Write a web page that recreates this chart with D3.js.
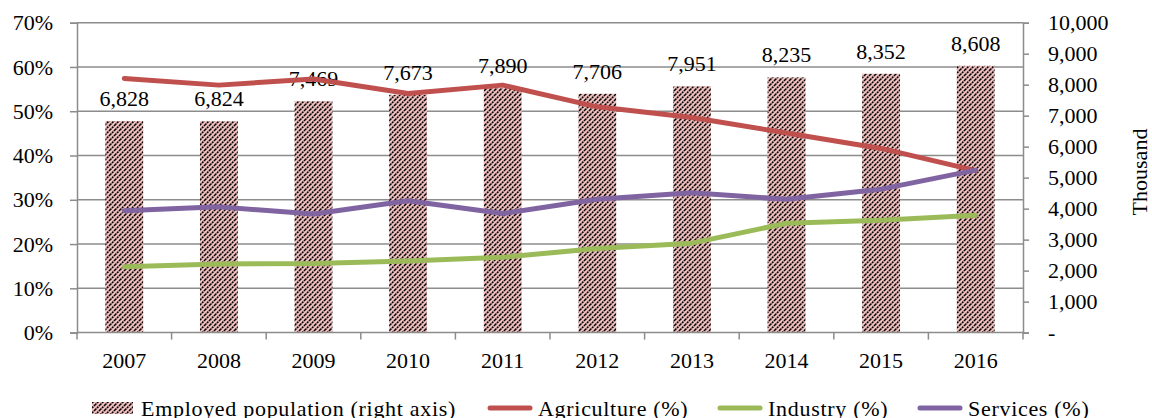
<!DOCTYPE html>
<html>
<head>
<meta charset="utf-8">
<script src="https://cdn.jsdelivr.net/npm/d3@7/dist/d3.min.js"></script>
<style>
  html, body { margin: 0; padding: 0; background: #fff; }
  svg { display: block; }
</style>
</head>
<body>
<svg id="chart" width="1152" height="418"></svg>
<script>
/* Employed population (bars, right axis) vs sector shares (lines, left axis). */
const years = ['2007', '2008', '2009', '2010', '2011', '2012', '2013', '2014', '2015', '2016'];
const employed = [6828, 6824, 7469, 7673, 7890, 7706, 7951, 8235, 8352, 8608];
const agriculture = [57.4, 55.9, 57.3, 54.0, 55.9, 51.0, 48.6, 45.1, 41.6, 36.6];
const industry = [14.9, 15.5, 15.6, 16.2, 17.0, 19.0, 20.2, 24.7, 25.4, 26.5];
const services = [27.5, 28.4, 26.8, 29.8, 26.9, 30.1, 31.6, 30.1, 32.4, 36.7];
const leftTicks = [0, 10, 20, 30, 40, 50, 60, 70];
const rightTicks = [0, 1000, 2000, 3000, 4000, 5000, 6000, 7000, 8000, 9000, 10000];

(function () {
  const svg = d3.select('#chart');
  const font = '"Liberation Serif", "Times New Roman", serif';
  const grid = '#8c8c8c';
  const left = 77, right = 1023, top = 22.7, bottom = 332.6;

  const x = d3.scaleBand().domain(years).range([left, right]).paddingInner(0.6).paddingOuter(0.3);
  const xc = d => x(d) + x.bandwidth() / 2;
  const yL = d3.scaleLinear().domain([0, 70]).range([bottom, top]);
  const yR = d3.scaleLinear().domain([0, 10000]).range([bottom, top]);

  // Hatch pattern for bars (pink with black up-diagonals)
  const P = 5;
  const defs = svg.append('defs');
  const pat = defs.append('pattern')
    .attr('id', 'hatch').attr('patternUnits', 'userSpaceOnUse')
    .attr('width', P).attr('height', P);
  pat.append('rect').attr('width', P).attr('height', P).attr('fill', '#efbebd');
  pat.append('path')
    .attr('d', `M-1,1 l2,-2 M0,${P} l${P},-${P} M${P - 1},${P + 1} l2,-2`)
    .attr('stroke', '#000').attr('stroke-width', 1.5)
    .attr('stroke-dasharray', '2 0.8');

  // Gridlines
  svg.append('g').selectAll('line').data(leftTicks.filter(d => d > 0)).join('line')
    .attr('x1', left).attr('x2', right)
    .attr('y1', d => yL(d)).attr('y2', d => yL(d))
    .attr('stroke', grid).attr('stroke-width', 1.5);

  // Bars
  svg.append('g').selectAll('rect').data(years).join('rect')
    .attr('x', d => x(d)).attr('width', x.bandwidth())
    .attr('y', (d, i) => yR(employed[i]))
    .attr('height', (d, i) => bottom - yR(employed[i]))
    .attr('fill', 'url(#hatch)');

  // Bar labels
  svg.append('g').selectAll('text').data(years).join('text')
    .attr('x', d => xc(d))
    .attr('y', (d, i) => yR(employed[i]) - 15)
    .attr('text-anchor', 'middle')
    .attr('font-family', font).attr('font-size', 22).attr('fill', '#000')
    .text((d, i) => d3.format(',')(employed[i]));

  // Lines
  const series = [
    { vals: agriculture, color: '#c0504d' },
    { vals: services, color: '#8064a2' },
    { vals: industry, color: '#9bbb59' }
  ];
  const line = d3.line().x((d, i) => xc(years[i])).y(d => yL(d));
  series.forEach(s => {
    svg.append('path').datum(s.vals)
      .attr('d', line).attr('fill', 'none')
      .attr('stroke', s.color).attr('stroke-width', 5)
      .attr('stroke-linecap', 'round').attr('stroke-linejoin', 'round');
  });

  // Axes
  const styleAxis = g => {
    g.select('.domain').attr('stroke', grid).attr('stroke-width', 1.5);
    g.selectAll('.tick line').attr('stroke', grid).attr('stroke-width', 1.5);
    g.selectAll('text').attr('font-family', font).attr('font-size', 22).attr('fill', '#000');
  };

  svg.append('g').attr('transform', `translate(${left},0)`)
    .call(d3.axisLeft(yL).tickValues(leftTicks).tickFormat(d => d + '%').tickSizeOuter(0).tickSize(7).tickPadding(17))
    .call(styleAxis);

  svg.append('g').attr('transform', `translate(${right},0)`)
    .call(d3.axisRight(yR).tickValues(rightTicks)
      .tickFormat(d => d === 0 ? '-' : d3.format(',')(d)).tickSizeOuter(0).tickSize(6).tickPadding(19))
    .call(styleAxis);

  // Bottom axis with ticks between categories
  const xg = svg.append('g').attr('transform', `translate(0,${bottom})`);
  xg.append('line').attr('x1', left).attr('x2', right).attr('stroke', grid).attr('stroke-width', 1.5);
  xg.selectAll('line.tk').data(d3.range(years.length + 1)).join('line')
    .attr('class', 'tk')
    .attr('x1', i => left + i * (right - left) / years.length)
    .attr('x2', i => left + i * (right - left) / years.length)
    .attr('y1', 0).attr('y2', 7).attr('stroke', grid).attr('stroke-width', 1.5);
  xg.selectAll('text').data(years).join('text')
    .attr('x', d => xc(d)).attr('y', 35)
    .attr('text-anchor', 'middle')
    .attr('font-family', font).attr('font-size', 22).attr('fill', '#000')
    .text(d => d);

  // Right axis title
  svg.append('text')
    .attr('transform', 'translate(1147,172) rotate(-90)')
    .attr('text-anchor', 'middle')
    .attr('font-family', font).attr('font-size', 22).attr('fill', '#000')
    .text('Thousand');

  // Legend
  const leg = svg.append('g');
  const ly = 408;
  leg.append('rect').attr('x', 92).attr('y', ly - 6).attr('width', 41).attr('height', 12).attr('fill', 'url(#hatch)');
  leg.append('text').attr('x', 141).attr('y', ly + 8)
    .attr('font-family', font).attr('font-size', 22).attr('letter-spacing', 0.7)
    .text('Employed population (right axis)');
  const lineItems = [
    { label: 'Agriculture (%)', color: '#c0504d', x0: 490 },
    { label: 'Industry (%)', color: '#9bbb59', x0: 720 },
    { label: 'Services (%)', color: '#8064a2', x0: 920 }
  ];
  lineItems.forEach(it => {
    leg.append('line').attr('x1', it.x0).attr('x2', it.x0 + 40)
      .attr('y1', ly).attr('y2', ly)
      .attr('stroke', it.color).attr('stroke-width', 5).attr('stroke-linecap', 'round');
    leg.append('text').attr('x', it.x0 + 48).attr('y', ly + 8)
      .attr('font-family', font).attr('font-size', 22).attr('letter-spacing', 0.7)
      .text(it.label);
  });
})();
</script>
</body>
</html>
